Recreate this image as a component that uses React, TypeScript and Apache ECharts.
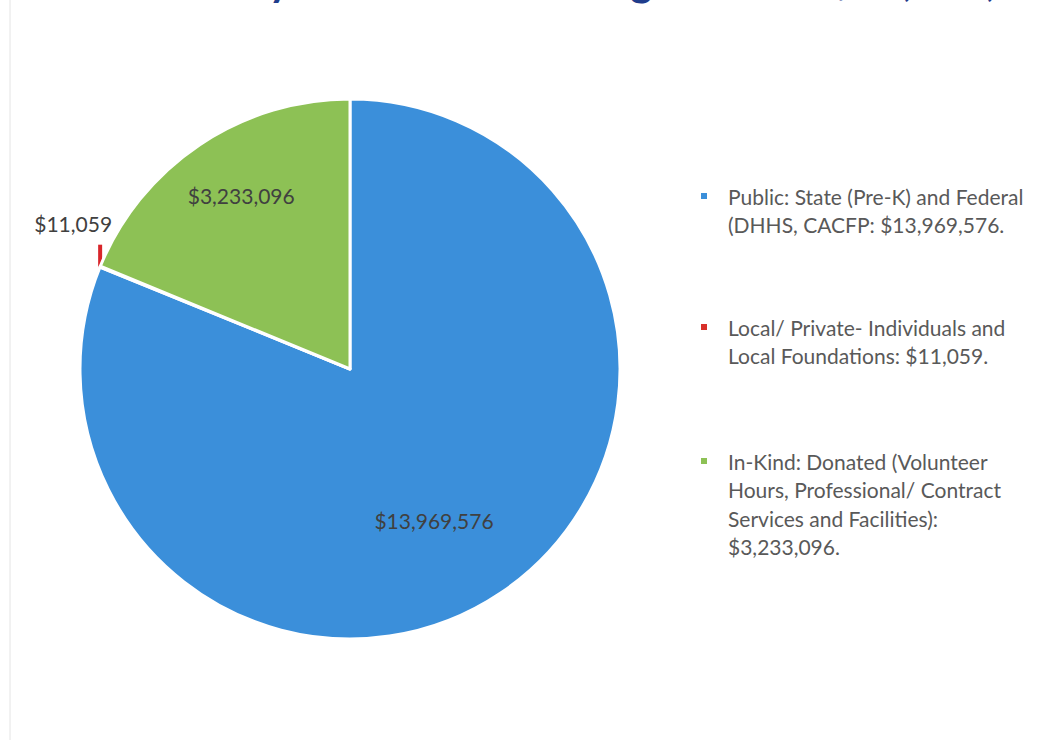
import React, { useEffect, useRef } from "react";
import * as echarts from "echarts";

const title = "FY 2017 Early Childhood Funding Sources: $17,213,731";

const categories = [
  "Public: State (Pre-K) and Federal (DHHS, CACFP",
  "Local/ Private- Individuals and Local Foundations",
  "In-Kind: Donated (Volunteer Hours, Professional/ Contract Services and Facilities)",
];

const values = [13969576, 11059, 3233096];

const legendLines = [
  ["Public: State (Pre-K) and Federal", "(DHHS, CACFP: $13,969,576."],
  ["Local/ Private- Individuals and", "Local Foundations: $11,059."],
  ["In-Kind: Donated (Volunteer", "Hours, Professional/ Contract", "Services and Facilities):", "$3,233,096."],
];

const colors = ["#3b8fda", "#d8302a", "#8dc155"];

const fmt = (v: number) => "$" + v.toLocaleString("en-US");

export default function App() {
  const ref = useRef<HTMLDivElement>(null);

  useEffect(() => {
    if (!ref.current) return;
    const chart = echarts.init(ref.current, null, { renderer: "svg" });

    const lineH = 28.5;
    const legendFirstLineY = [196, 327, 461];

    const legends = categories.map((name, i) => {
      const n = legendLines[i].length;
      const h = (2 * n - 1) * lineH;
      return {
        data: [name],
        orient: "vertical",
        left: 699,
        top: legendFirstLineY[i] - h / 2,
        padding: 0,
        itemWidth: 8,
        itemHeight: 8,
        icon: "rect",
        selectedMode: false,
        formatter: () =>
          [...new Array(n - 1).fill(""), ...legendLines[i]].join("\n"),
        textStyle: {
          fontFamily: "Lato",
          fontSize: 21,
          color: "#595959",
          lineHeight: lineH,
          padding: [0, 0, 0, 15],
        },
      };
    });

    const labelConf = [
      { position: "inside", offset: [7, 37] },
      { position: "outside" },
      { position: "inside", offset: [-32, -59] },
    ];

    chart.setOption({
      animation: false,
      backgroundColor: "#ffffff",
      graphic: [
        {
          type: "text",
          x: 30,
          y: -20,
          style: {
            text: title,
            fontFamily: "Lato",
            fontSize: 42,
            fontWeight: "bold",
            fill: "#1f3d8c",
            verticalAlign: "middle",
          },
        },
        {
          type: "line",
          shape: { x1: 10, y1: 0, x2: 10, y2: 740 },
          style: { stroke: "#e4e4e4", lineWidth: 1 },
        },
      ],
      legend: legends,
      series: [
        {
          type: "pie",
          center: [350, 369],
          radius: 270,
          startAngle: 90,
          clockwise: true,
          avoidLabelOverlap: false,
          itemStyle: { borderColor: "#ffffff", borderWidth: 3 },
          label: {
            show: true,
            formatter: (p: any) => fmt(p.value),
            fontFamily: "Lato",
            fontSize: 21,
            color: "#404040",
          },
          labelLine: { show: false },
          emphasis: { disabled: true },
          labelLayout: (params: any) => {
            if (params.dataIndex !== 1) return {};
            const pts = params.labelLinePoints;
            if (!pts) return {};
            const x0 = pts[0][0];
            const y0 = pts[0][1];
            return {
              x: x0 - 27,
              y: y0 - 43,
              align: "center",
              verticalAlign: "middle",
              labelLinePoints: [
                [x0, y0 + 1],
                [x0, y0 - 22],
                [x0, y0 - 22],
              ],
            };
          },
          data: values.map((v, i) => ({
            value: v,
            name: categories[i],
            itemStyle: { color: colors[i] },
            label: labelConf[i],
            labelLine:
              i === 1
                ? {
                    show: true,
                    length: 10,
                    length2: 10,
                    lineStyle: { color: "#d8252a", width: 4 },
                  }
                : { show: false },
          })),
        },
      ],
    });

    return () => chart.dispose();
  }, []);

  return (
    <div
      ref={ref}
      style={{ position: "absolute", left: 0, top: 0, width: 1051, height: 740 }}
    />
  );
}
